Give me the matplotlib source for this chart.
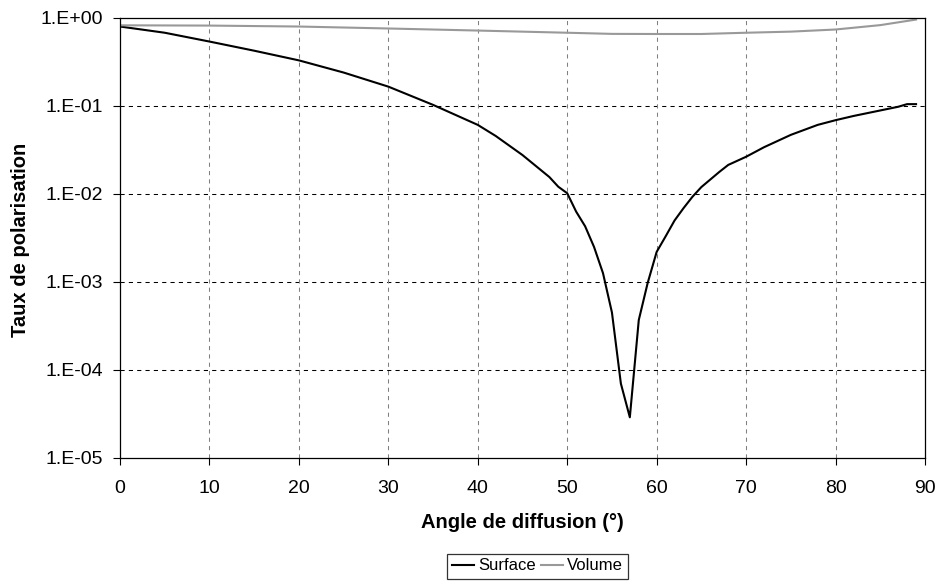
"""
Taux de polarisation vs angle de diffusion (surface / volume), log scale.
"""

import math

import matplotlib
matplotlib.use("Agg")
import matplotlib.pyplot as plt
from matplotlib.ticker import FixedLocator, FuncFormatter, NullLocator


# ----------------------------------------------------------------------
# DATA
# ----------------------------------------------------------------------

surface_angles = [0, 5, 10, 15, 20, 25, 30, 35, 40, 42, 45, 48, 49, 50, 51,
                  52, 53, 54, 55, 56, 57, 58, 59, 60, 61, 62, 63, 64, 65,
                  67, 68, 70, 72, 75, 78, 80, 82, 85, 87, 88, 89]
surface_values = [0.80, 0.68, 0.54, 0.425, 0.33, 0.24, 0.166, 0.103, 0.061,
                  0.0457, 0.0277, 0.0156, 0.0121, 0.0102, 0.0063,
                  0.0043, 0.0025, 0.00126, 4.5e-4, 7e-5, 2.9e-5, 3.7e-4,
                  9.8e-4, 2.2e-3, 0.0033, 0.0050, 0.0069, 0.0093, 0.012,
                  0.0178, 0.0214, 0.0265, 0.034, 0.047, 0.061, 0.069, 0.077,
                  0.089, 0.098, 0.105, 0.105]

volume_angles = [0, 10, 20, 30, 40, 50, 55, 60, 65, 70, 75, 80, 85, 89]
volume_values = [0.826, 0.82, 0.80, 0.76, 0.72, 0.68, 0.66, 0.658, 0.658,
                 0.68, 0.70, 0.74, 0.83, 0.96]

x_ticks = [0, 10, 20, 30, 40, 50, 60, 70, 80, 90]
y_ticks = [1e-5, 1e-4, 1e-3, 1e-2, 1e-1, 1e0]


plt.rcParams["font.family"] = ["Liberation Sans", "DejaVu Sans"]

W, H = 937, 581
fig = plt.figure(figsize = (W / 100, H / 100), dpi = 100)
ax = fig.add_axes([120 / W, 1 - 458 / H, 805 / W, 440 / H])

ax.plot(surface_angles, surface_values, color = "black", lw = 1.5, label = "Surface")
ax.plot(volume_angles, volume_values, color = "#999999", lw = 1.5, label = "Volume")

ax.set_yscale("log")
ax.set_xlim(0, 90)
ax.set_ylim(1e-5, 1)

ax.xaxis.set_major_locator(FixedLocator(x_ticks))
ax.yaxis.set_major_locator(FixedLocator(y_ticks))
ax.yaxis.set_minor_locator(NullLocator())
ax.yaxis.set_major_formatter(FuncFormatter(lambda v, p: "1.E%+03d" % round(math.log10(v))))

ax.tick_params(axis = "both", direction = "out", length = 5, width = 0.8,
               labelsize = 14, color = "black")
ax.tick_params(axis = "x", pad = 10.5)
ax.tick_params(axis = "y", pad = 7)

# grid: horizontal black dashed, vertical grey dashed
for y in y_ticks[1:-1]:
    ax.axhline(y, color = "black", lw = 0.75, ls = (0, (4, 4)), zorder = 0)
for x in x_ticks[1:-1]:
    ax.axvline(x, color = "#808080", lw = 0.75, ls = (0, (4, 4)), zorder = 0)

for side in ax.spines.values():
    side.set_color("black")
    side.set_linewidth(0.9)

fig.text(522.5 / W, 1 - 523 / H, "Angle de diffusion (°)", fontsize = 14.5,
         fontweight = "bold", ha = "center", va = "center")
fig.text(21 / W, 1 - 240 / H, "Taux de polarisation", fontsize = 14.5,
         fontweight = "bold", ha = "center", va = "center", rotation = 90)

leg = fig.legend(loc = "center", bbox_to_anchor = (537.5 / W, 1 - 566 / H),
                 ncol = 2, fontsize = 12, frameon = True, fancybox = False,
                 handlelength = 1.3, handletextpad = 0.25, columnspacing = 0.3,
                 borderpad = 0.3, borderaxespad = 0)
leg.get_frame().set_edgecolor("black")
leg.get_frame().set_linewidth(0.9)

fig.savefig("out.png", dpi = 100)
plt.close(fig)
